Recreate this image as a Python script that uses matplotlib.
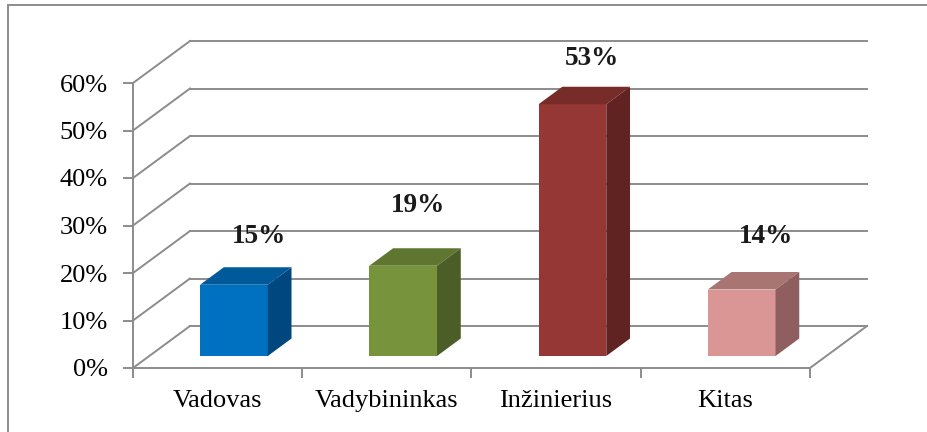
import matplotlib
matplotlib.use("Agg")
import matplotlib.pyplot as plt
from matplotlib.patches import Polygon
from matplotlib.lines import Line2D

# ---- data ----
categories = ["Vadovas", "Vadybininkas", "Inžinierius", "Kitas"]
values = [15, 19, 53, 14]
value_labels = ["15%", "19%", "53%", "14%"]
yticks = [0, 10, 20, 30, 40, 50, 60]
ytick_labels = ["0%", "10%", "20%", "30%", "40%", "50%", "60%"]

front_colors = ["#0070C0", "#77933C", "#953735", "#D99694"]
top_colors = ["#005A9A", "#5F7630", "#772C2A", "#A87572"]
side_colors = ["#00477F", "#4B5E27", "#612322", "#8E5F5E"]

plt.rcParams["font.family"] = ["Liberation Serif", "DejaVu Serif"]

W, H = 928, 432
fig = plt.figure(figsize=(W / 100, H / 100), dpi=100)
# front plane in pixels: x 133..810, y 368 (0%) .. 83 (60%)
ax = fig.add_axes([133 / W, (H - 368) / H, (810 - 133) / W, (368 - 83) / H])
ax.set_xlim(0, 4)
ax.set_ylim(0, 60)
ax.patch.set_visible(False)

grid_c = "#8C8C8C"
lw = 1.4
# depth offset of the back wall in data units
DX = 57 / ((810 - 133) / 4)
DY = 42 / ((368 - 83) / 60)

# back wall + left wall gridlines
for t in yticks:
    ax.add_line(Line2D([DX, 4 + DX], [t + DY, t + DY], color=grid_c, lw=lw, clip_on=False, zorder=1))
    ax.add_line(Line2D([0, DX], [t, t + DY], color=grid_c, lw=lw, clip_on=False, zorder=1))
# floor right edge
ax.add_line(Line2D([4, 4 + DX], [0, DY], color=grid_c, lw=lw, clip_on=False, zorder=1))

# bars
f0 = 12 / 42      # depth fraction of bar front
fd = 17.5 / 42    # depth fraction of bar thickness
bw = 0.40
for i, v in enumerate(values):
    x0 = i + 0.5 - bw / 2 + f0 * DX
    x1 = x0 + bw
    b = f0 * DY
    h = b + v
    ddx, ddy = fd * DX, fd * DY
    ax.add_patch(Polygon([[x0, b], [x1, b], [x1, h], [x0, h]], closed=True,
                         facecolor=front_colors[i], edgecolor="none", clip_on=False, zorder=3))
    ax.add_patch(Polygon([[x0, h], [x1, h], [x1 + ddx, h + ddy], [x0 + ddx, h + ddy]], closed=True,
                         facecolor=top_colors[i], edgecolor="none", clip_on=False, zorder=3))
    ax.add_patch(Polygon([[x1, b], [x1 + ddx, b + ddy], [x1 + ddx, h + ddy], [x1, h]], closed=True,
                         facecolor=side_colors[i], edgecolor="none", clip_on=False, zorder=3))

# value labels
label_dx = [0.744, 0.684, 0.712, 0.74]
label_dy = [12.6, 15.3, 12.1, 13.6]
for i, v in enumerate(values):
    ax.text(i + label_dx[i], v + label_dy[i], value_labels[i], ha="center", va="center",
            fontsize=19.5, fontweight="bold", color="#1a1a1a", clip_on=False, zorder=4)

# axes / spines
for s in ["top", "right"]:
    ax.spines[s].set_visible(False)
for s in ["left", "bottom"]:
    ax.spines[s].set_color(grid_c)
    ax.spines[s].set_linewidth(lw)
    ax.spines[s].set_zorder(2)

ax.set_yticks(yticks)
ax.set_yticklabels(ytick_labels)
ax.tick_params(axis="y", length=7, width=lw, color=grid_c, pad=11, labelsize=19, labelcolor="black")

ax.set_xticks([0, 1, 2, 3, 4])
ax.set_xticklabels([])
ax.set_xticks([i + 0.5 for i in range(len(categories))], minor=True)
ax.set_xticklabels(categories, minor=True)
ax.tick_params(axis="x", which="major", length=7, width=lw, color=grid_c)
ax.tick_params(axis="x", which="minor", length=0, pad=16, labelsize=19, labelcolor="black")

# outer chart border (left and top visible)
fig.add_artist(Line2D([8 / W, 8 / W], [0, 1 - 5 / H], transform=fig.transFigure, color="#8C8C8C", lw=1.4))
fig.add_artist(Line2D([8 / W, 1], [1 - 5 / H, 1 - 5 / H], transform=fig.transFigure, color="#8C8C8C", lw=1.4))

fig.savefig("out.png", dpi=100)
